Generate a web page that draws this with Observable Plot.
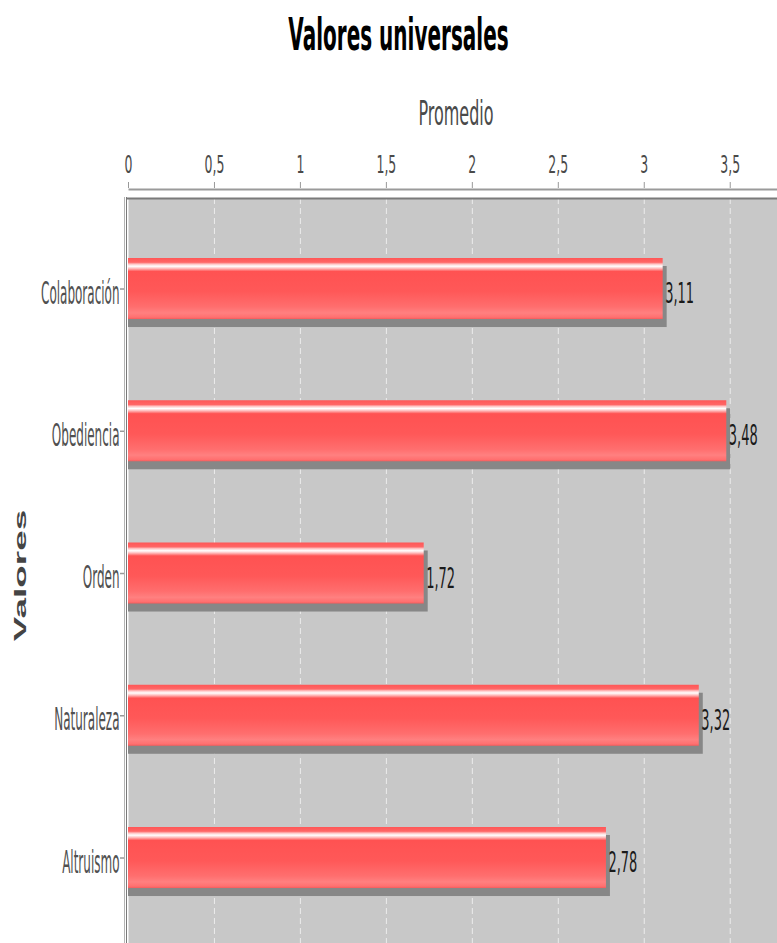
<!DOCTYPE html>
<html>
<head>
<meta charset="utf-8">
<script src="https://cdn.jsdelivr.net/npm/d3@7"></script>
<script src="https://cdn.jsdelivr.net/npm/@observablehq/plot@0.6"></script>
<style>
html, body { margin: 0; padding: 0; background: #fff; overflow: hidden; }
#title { position: relative; width: 777px; height: 70px; }
#title span {
  position: absolute; left: 10px; top: 25px; width: 777px; text-align: center;
  font: bold 20px/20px "DejaVu Sans", sans-serif; color: #000; white-space: nowrap;
  transform: scaleY(2.18); transform-origin: 50% 50%;
}
</style>
</head>
<body>
<div id="title"><span>Valores universales</span></div>
<div id="chart"></div>
<script>
// ---- data ----
const categories = ["Colaboración", "Obediencia", "Orden", "Naturaleza", "Altruismo"];
const values = [3.11, 3.48, 1.72, 3.32, 2.78];
const valueLabels = ["3,11", "3,48", "1,72", "3,32", "2,78"];
const xTicks = [0, 0.5, 1, 1.5, 2, 2.5, 3, 3.5];
const xTickLabels = ["0", "0,5", "1", "1,5", "2", "2,5", "3", "3,5"];
const xAxisLabel = "Promedio";
const yAxisLabel = "Valores";
const xMax = 3.775;

const rows = categories.map((c, i) => ({cat: c, value: values[i], label: valueLabels[i]}));

const W = 777, H = 873;
const svg = Plot.plot({
  width: W,
  height: H,
  marginTop: 128,
  marginBottom: 0,
  marginLeft: 128,
  marginRight: 0,
  style: {background: "white", fontFamily: "DejaVu Sans"},
  x: {domain: [0, xMax], axis: null},
  y: {domain: categories, range: [147.39, 858.64], paddingInner: 0.571, paddingOuter: 0.2855, round: false, axis: null},
  marks: [
    // plot background
    Plot.frame({fill: "#c8c8c8", stroke: "none"}),
    // grid lines
    Plot.ruleX(xTicks.slice(1), {x: d => d, stroke: "#ececec", strokeDasharray: "6,4"}),
    // top axis line
    Plot.frame({fill: "#9a9a9a", stroke: "none", insetTop: -10, insetBottom: H - 120}),
    // plot top border
    Plot.frame({fill: "#7a7a7a", stroke: "none", insetTop: -1, insetBottom: H - 129, insetLeft: -1.5}),
    // left lines
    Plot.ruleX([0], {x: d => d, dx: -4, stroke: "#b4b4b4", insetTop: -1}),
    Plot.ruleX([0], {x: d => d, dx: -2, stroke: "#7a7a7a", insetTop: -1}),
    // x ticks
    Plot.ruleX(xTicks, {x: d => d, insetTop: -16, insetBottom: H - 118, stroke: "#999"}),
    // x tick labels
    Plot.text(xTicks, {x: d => d, text: (d, i) => xTickLabels[i], frameAnchor: "top", lineAnchor: "bottom",
      dy: -26, fontSize: 12.5, fill: "#4a4a4a", fontFamily: "DejaVu Sans"}),
    // x axis label
    Plot.text([xAxisLabel], {text: d => d, frameAnchor: "top", lineAnchor: "bottom", dx: 3, dy: -74,
      fontSize: 16, fill: "#4a4a4a", fontFamily: "DejaVu Sans"}),
    // category ticks
    Plot.ruleY(rows, {y: "cat", insetLeft: -8, insetRight: W - 124, stroke: "#999", strokeWidth: 1.5}),
    // category labels
    Plot.text(rows, {y: "cat", text: "cat", frameAnchor: "left", textAnchor: "end", lineAnchor: "bottom",
      dx: -9, dy: 14.5, fontSize: 12, fill: "#505050", fontFamily: "DejaVu Sans"}),
    // y axis label
    Plot.text([yAxisLabel], {text: d => d, frameAnchor: "left", rotate: -90, textAnchor: "middle", lineAnchor: "bottom",
      dx: -103, dy: 4.5, fontSize: 16.5, fontWeight: "bold", fill: "#444", fontFamily: "Liberation Sans"}),
    // bar shadows
    Plot.barX(rows, {x: "value", y: "cat", fill: "#878787", dx: 4, dy: 8, insetLeft: -4}),
    // bars
    Plot.barX(rows, {x: "value", y: "cat", fill: "url(#barGrad)"}),
    // value labels
    Plot.text(rows, {x: "value", y: "cat", text: "label", textAnchor: "start", lineAnchor: "bottom",
      dx: 2, dy: 14, fontSize: 13, fill: "#1a1a1a", fontFamily: "DejaVu Sans"})
  ]
});

// gradient definition for bars
const defs = document.createElementNS("http://www.w3.org/2000/svg", "defs");
defs.innerHTML = `<linearGradient id="barGrad" x1="0" y1="0" x2="0" y2="1">
  <stop offset="0" stop-color="#ff5656"/>
  <stop offset="0.07" stop-color="#ff6666"/>
  <stop offset="0.10" stop-color="#ffc4c4"/>
  <stop offset="0.135" stop-color="#ffffff"/>
  <stop offset="0.17" stop-color="#ffc0c0"/>
  <stop offset="0.22" stop-color="#ff5252"/>
  <stop offset="0.55" stop-color="#ff5858"/>
  <stop offset="0.80" stop-color="#ff6e6e"/>
  <stop offset="0.90" stop-color="#ff8080"/>
  <stop offset="0.97" stop-color="#ff7070"/>
  <stop offset="1" stop-color="#f45c5c"/>
</linearGradient>`;
svg.insertBefore(defs, svg.firstChild);

// the reference is vertically stretched: scale text glyphs accordingly
const scaleMap = {"12": [1, 2.6], "12.5": [1, 1.95], "13": [1, 2.2], "16": [1, 2.06], "16.5": [2.24, 1]};
svg.querySelectorAll("g[font-size]").forEach(g => {
  const s = scaleMap[g.getAttribute("font-size")];
  if (!s) return;
  g.querySelectorAll("text").forEach(t => {
    t.setAttribute("transform", (t.getAttribute("transform") || "") + ` scale(${s[0]},${s[1]})`);
  });
});

document.getElementById("chart").appendChild(svg);
</script>
</body>
</html>
